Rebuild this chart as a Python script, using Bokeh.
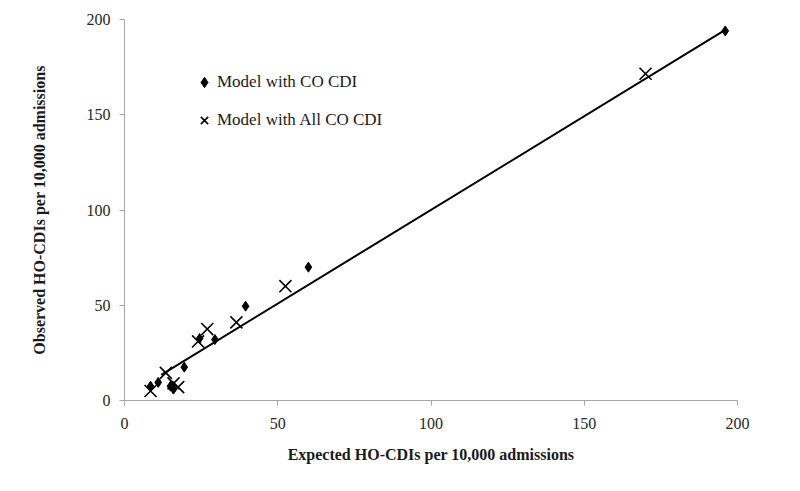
from bokeh.plotting import figure
from bokeh.models import Legend, LegendItem, Range1d, FixedTicker
from bokeh.embed import file_html
from bokeh.resources import INLINE

# Model with CO CDI (diamonds)
co_expected = [8.5, 11, 15, 16, 19.5, 24.5, 29.5, 39.5, 60, 196]
co_observed = [7.5, 9.5, 7.5, 6, 17.5, 32.5, 32, 49.5, 70, 194]

# Model with All CO CDI (crosses)
all_expected = [8.5, 13.5, 16, 17.5, 24, 27, 36.5, 52.5, 170]
all_observed = [5, 14.5, 9, 7, 31, 37.5, 41, 60, 171.5]

# Fitted line endpoints
fit_x = [12, 196]
fit_y = [13.5, 194.5]

ticks = [0, 50, 100, 150, 200]

FONT = "Liberation Serif"

p = figure(width=784, height=475, output_backend="svg", toolbar_location=None,
           x_range=Range1d(0, 200), y_range=Range1d(0, 200),
           min_border_left=124, min_border_right=47, min_border_top=19, min_border_bottom=75)

p.xgrid.visible = False
p.ygrid.visible = False
p.outline_line_color = None
p.background_fill_color = "white"
p.border_fill_color = "white"

for ax in (p.xaxis, p.yaxis):
    ax.ticker = FixedTicker(ticks=ticks)
    ax.minor_tick_line_color = None
    ax.axis_line_color = "#a6a6a6"
    ax.major_tick_line_color = "#a6a6a6"
    ax.major_tick_out = 5
    ax.major_tick_in = 0
    ax.major_label_text_font = FONT
    ax.major_label_text_font_size = "16px"
    ax.major_label_text_color = "#262626"
    ax.axis_label_text_font = FONT
    ax.axis_label_text_font_size = "16px"
    ax.axis_label_text_font_style = "bold"
    ax.axis_label_text_color = "#1a1a1a"

p.xaxis.axis_label = "Expected HO-CDIs per 10,000 admissions"
p.yaxis.axis_label = "Observed HO-CDIs per 10,000 admissions"
p.xaxis.major_label_standoff = 12
p.xaxis.axis_label_standoff = 14
p.yaxis.major_label_standoff = 9
p.yaxis.axis_label_standoff = 36

p.line(fit_x, fit_y, line_color="black", line_width=2)

r_co = p.scatter(co_expected, co_observed, marker="diamond", size=10,
                 fill_color="black", line_color="black")
r_all = p.scatter(all_expected, all_observed, marker="x", size=17,
                  line_color="black", line_width=1.6)

legend = Legend(items=[LegendItem(label="Model with CO CDI", renderers=[r_co]),
                       LegendItem(label="Model with All CO CDI", renderers=[r_all])],
                location=(67, 266), orientation="vertical")
legend.label_text_font = FONT
legend.label_text_font_size = "17px"
legend.label_text_color = "#1a1a1a"
legend.border_line_color = None
legend.background_fill_alpha = 0
legend.padding = 0
legend.margin = 0
legend.spacing = 10
legend.glyph_width = 26
legend.glyph_height = 28
legend.label_height = 28
legend.label_standoff = 0
p.add_layout(legend)

open("out.html", "w").write(file_html(p, INLINE))
